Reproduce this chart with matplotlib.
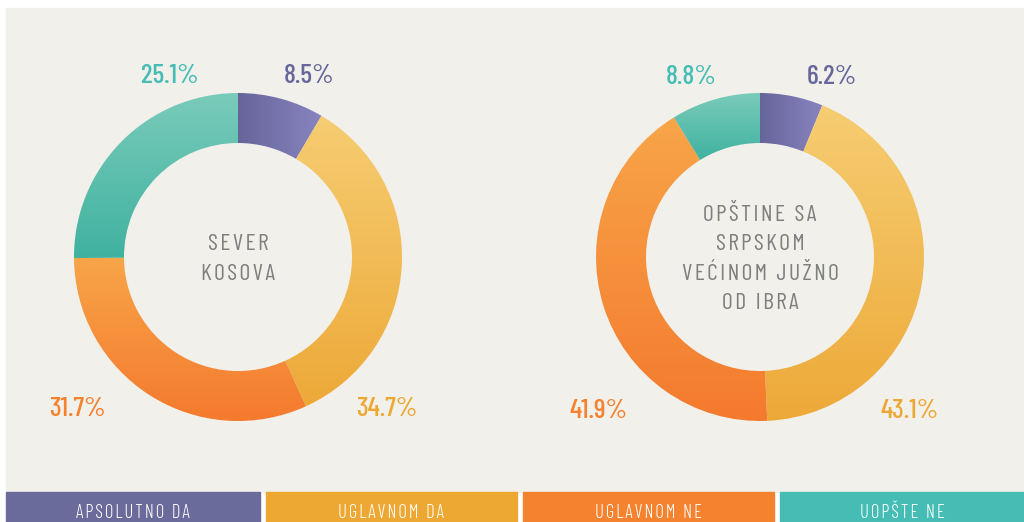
import numpy as np
import matplotlib.pyplot as plt
from matplotlib.colors import LinearSegmentedColormap

categories = ["APSOLUTNO DA", "UGLAVNOM DA", "UGLAVNOM NE", "UOPŠTE NE"]
sever = [8.5, 34.7, 31.7, 25.1]
juzno = [6.2, 43.1, 41.9, 8.8]
titles = [["SEVER", "KOSOVA"], ["OPŠTINE SA", "SRPSKOM", "VEĆINOM JUŽNO", "OD IBRA"]]

legend_colors = ["#6a6a9b", "#eda834", "#f4822f", "#45bdb5"]
label_colors = ["#67679b", "#eda834", "#f4822f", "#45bdb5"]
# start colour, end colour, direction for each slice gradient
grads = [("#66659a", "#8884c0", "h"),
         ("#f6cd72", "#eda938", "v"),
         ("#f8a548", "#f47a2e", "v"),
         ("#7acbba", "#40b2a0", "v")]

W, H = 1024, 522
fig = plt.figure(figsize=(W / 100, H / 100), dpi=100)
ax = fig.add_axes([0, 0, 1, 1])

fam = ["Barlow Condensed", "DejaVu Sans"]


def spaced(s, sp="\u200a"):
    return sp.join(s)


# background panel
ax.add_patch(plt.Rectangle((6, 30), W - 6, H - 8 - 30, color="#f1f0eb", zorder=0))

centers = [(238, H - 257), (760, H - 257)]
R = 164
ring = 50
label_pos = [
    [(309, H - 76), (387, H - 409), (77, H - 409), (170, H - 76)],
    [(832, H - 77), (910, H - 411), (599, H - 411), (691, H - 77)],
]
line_step = 29.5

for k, (vals, c) in enumerate(zip([sever, juzno], centers)):
    wedges, _ = ax.pie(vals, center=c, radius=R, startangle=90, counterclock=False,
                       wedgeprops=dict(width=ring, linewidth=0), frame=False)
    for w, (c0, c1, d) in zip(wedges, grads):
        w.set_facecolor("none")
        cmap = LinearSegmentedColormap.from_list("g", [c0, c1])
        g = np.linspace(0, 1, 256)
        img = g[None, :] if d == "h" else g[:, None]
        bb = w.get_path().get_extents(w.get_transform()).transformed(ax.transData.inverted())
        im = ax.imshow(img, cmap=cmap, extent=[bb.x0, bb.x1, bb.y0, bb.y1],
                       origin="upper", aspect="auto", zorder=2)
        im.set_clip_path(w)
    for v, pos, col in zip(vals, label_pos[k], label_colors):
        ax.text(pos[0], pos[1], f"{v}%", color=col, fontsize=20, ha="center",
                va="center", family=fam, fontweight=500)
    lines = titles[k]
    n = len(lines)
    for i, ln in enumerate(lines):
        y = c[1] + ((n - 1) / 2 - i) * line_step
        ax.text(c[0], y, spaced(ln), color="#7f7f7f", fontsize=17,
                ha="center", va="center_baseline", family=fam)

ax.set_xlim(0, W)
ax.set_ylim(0, H)
ax.set_aspect("auto")
ax.axis("off")

# legend bars
for i, (name, col) in enumerate(zip(categories, legend_colors)):
    x0 = 9 + i * 257
    x1 = min(x0 + 251, W)
    if i == 0:
        x0 = 6
    ax.add_patch(plt.Rectangle((x0, 0), x1 - x0, 30, color=col, zorder=1))
    ax.text((x0 + x1) / 2, 9, spaced(name), color="white", fontsize=13.5,
            ha="center", va="center", family=fam, fontweight=300)

fig.savefig("out.png", dpi=100, facecolor="white")
